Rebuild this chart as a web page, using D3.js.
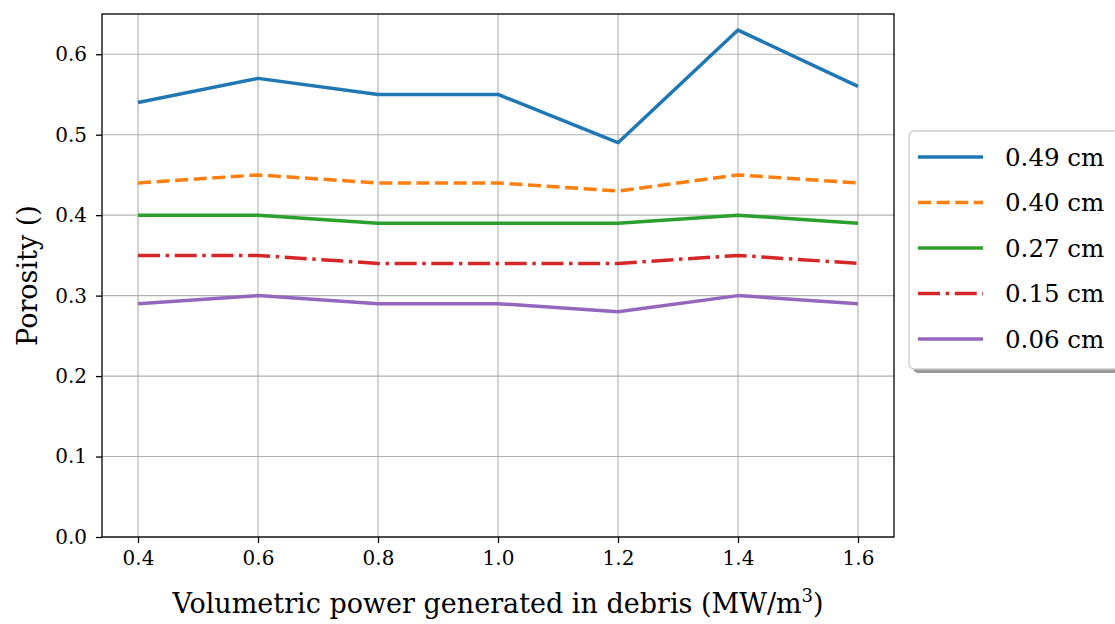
<!DOCTYPE html>
<html><head><meta charset="utf-8">
<script src="https://cdn.jsdelivr.net/npm/d3@7"></script>
<style>body{margin:0;background:#fff;}svg{display:block;font-family:"DejaVu Serif",serif;}</style>
</head><body>
<svg id="c" width="1115" height="624"></svg>
<script>
const xValues = [0.4, 0.6, 0.8, 1.0, 1.2, 1.4, 1.6];
const seriesNames = ["0.49 cm", "0.40 cm", "0.27 cm", "0.15 cm", "0.06 cm"];
const s049 = [0.54, 0.57, 0.55, 0.55, 0.49, 0.63, 0.56];
const s040 = [0.44, 0.45, 0.44, 0.44, 0.43, 0.45, 0.44];
const s027 = [0.40, 0.40, 0.39, 0.39, 0.39, 0.40, 0.39];
const s015 = [0.35, 0.35, 0.34, 0.34, 0.34, 0.35, 0.34];
const s006 = [0.29, 0.30, 0.29, 0.29, 0.28, 0.30, 0.29];
const xTicks = [0.4, 0.6, 0.8, 1.0, 1.2, 1.4, 1.6];
const yTicks = [0.0, 0.1, 0.2, 0.3, 0.4, 0.5, 0.6];

const colors = ["#1f77b4", "#ff7f0e", "#2ca02c", "#d62728", "#9467bd"];
const dashes = [null, "13,5.6", null, "22,5.6,3.5,5.6", null];
const allSeries = [s049, s040, s027, s015, s006];

const svg = d3.select("#c");
const L = 102, R = 894, T = 14, B = 537;
const x = d3.scaleLinear().domain([0.34, 1.66]).range([L, R]);
const y = d3.scaleLinear().domain([0, 0.65]).range([B, T]);

// grid
const g = svg.append("g");
g.selectAll(".gx").data(xTicks).enter().append("line")
  .attr("x1", d => x(d)).attr("x2", d => x(d)).attr("y1", T).attr("y2", B)
  .attr("stroke", "#b0b0b0").attr("stroke-width", 1.1);
g.selectAll(".gy").data(yTicks).enter().append("line")
  .attr("y1", d => y(d)).attr("y2", d => y(d)).attr("x1", L).attr("x2", R)
  .attr("stroke", "#b0b0b0").attr("stroke-width", 1.1);

// axes
const xAxis = d3.axisBottom(x).tickValues(xTicks).tickFormat(d3.format(".1f")).tickSize(6).tickPadding(8);
const yAxis = d3.axisLeft(y).tickValues(yTicks).tickFormat(d3.format(".1f")).tickSize(6).tickPadding(9);
const gx = svg.append("g").attr("transform", `translate(0,${B})`).call(xAxis);
const gy = svg.append("g").attr("transform", `translate(${L},0)`).call(yAxis);
[gx, gy].forEach(a => {
  a.attr("font-family", null).attr("font-size", null);
  a.select(".domain").remove();
  a.selectAll(".tick line").attr("stroke", "#000").attr("stroke-width", 1.3);
  a.selectAll(".tick text").attr("fill", "#000").style("font-size", "20px");
});

// lines
const line = d3.line().x((d, i) => x(xValues[i])).y(d => y(d));
allSeries.forEach((s, k) => {
  svg.append("path").datum(s).attr("d", line)
    .attr("fill", "none").attr("stroke", colors[k]).attr("stroke-width", 3.5)
    .attr("stroke-dasharray", dashes[k]).attr("stroke-linejoin", "round");
});

// frame
svg.append("rect").attr("x", L).attr("y", T).attr("width", R - L).attr("height", B - T)
  .attr("fill", "none").attr("stroke", "#000").attr("stroke-width", 1.3);

// axis labels
svg.append("text").attr("x", (L + R) / 2).attr("y", 613).attr("text-anchor", "middle")
  .style("font-size", "27px")
  .html('Volumetric power generated in debris (MW/m<tspan dy="-11" style="font-size:18px">3</tspan><tspan dy="11">)</tspan>');
svg.append("text").attr("transform", `translate(37,${(T + B) / 2}) rotate(-90)`).attr("text-anchor", "middle")
  .style("font-size", "27px").text("Porosity ()");

// legend
const lg = svg.append("g");
lg.append("rect").attr("x", 913).attr("y", 135).attr("width", 210).attr("height", 238).attr("rx", 5)
  .attr("fill", "#999");
lg.append("rect").attr("x", 909).attr("y", 131).attr("width", 210).attr("height", 238).attr("rx", 5)
  .attr("fill", "#fff").attr("stroke", "#cccccc").attr("stroke-width", 1.3);
seriesNames.forEach((n, k) => {
  const yy = 157 + k * 45.5;
  lg.append("line").attr("x1", 918).attr("x2", 983).attr("y1", yy).attr("y2", yy)
    .attr("stroke", colors[k]).attr("stroke-width", 3.5).attr("stroke-dasharray", dashes[k]);
  lg.append("text").attr("x", 1005).attr("y", yy + 8.5).style("font-size", "24.5px").text(n);
});
</script>
</body></html>
